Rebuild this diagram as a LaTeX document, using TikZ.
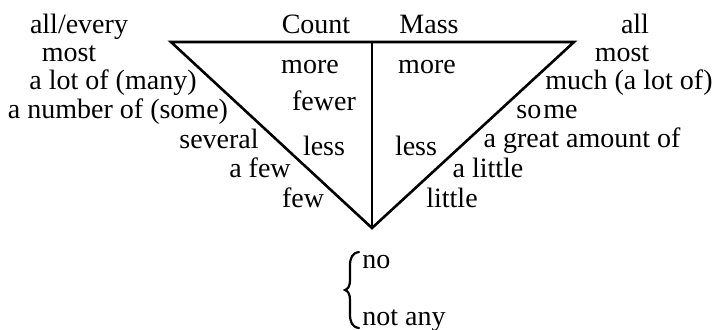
\documentclass[tikz,border=0pt]{standalone}
\usepackage{fontspec}
\setmainfont{Liberation Serif}
\usetikzlibrary{positioning, calc}

\begin{document}
\begin{tikzpicture}[x=0.5pt, y=-0.5pt, font=\fontsize{14}{16}\selectfont,
  word/.style={anchor=base, inner sep=0pt},
  edge/.style={line width=1.3pt}]
  \useasboundingbox (0,0) rectangle (715,329);

  % triangle
  \coordinate (tl)   at (171,42);
  \coordinate (tr)   at (574,42);
  \coordinate (tm)   at (372,42);
  \coordinate (apex) at (372,228);
  \draw[edge] (tl) -- (tr) -- (apex) -- cycle;
  \draw[edge] (tm) -- (apex);

  % headings
  \node[word] (count) at (316,33) {Count};
  \node[word] (mass)  at (429,33) {Mass};

  % count, outside
  \node[word] (allevery) at (79,33)   {all/every};
  \node[word] (mostL)    at (69,61)   {most};
  \node[word] (alotof)   at (113,89)  {a lot of (many)};
  \node[word] (anumber)  at (118,118) {a number of (some)};
  \node[word] (several)  at (219,148) {several};
  \node[word] (afew)     at (260,177) {a few};
  \node[word] (few)      at (303,207) {few};

  % count, inside
  \node[word] (moreL)  at (310,73)  {more};
  \node[word] (fewer)  at (324,110) {fewer};
  \node[word] (lessL)  at (324,155) {less};

  % mass, inside
  \node[word] (moreR)  at (427,73)  {more};
  \node[word] (lessR)  at (416,155) {less};

  % mass, outside
  \node[word] (all)     at (635,33)  {all};
  \node[word] (mostR)   at (622,61)  {most};
  \node[word] (much)    at (629,89)  {much (a lot of)};
  \node[word] (some)    at (547,118) {so\kern1pt me};
  \node[word] (great)   at (582,147) {a great amount of};
  \node[word] (alittle) at (488,177) {a little};
  \node[word] (little)  at (452,207) {little};

  % below the apex
  \node[word, anchor=base west] (no)     at (362,268) {no};
  \node[word, anchor=base west] (notany) at (362,325) {not any};
  \coordinate (bracetop) at (359,252);
  \coordinate (bracebot) at (359,328);
  \coordinate (bracetip) at (345,290);
  \draw[line width=1.1pt, line cap=round]
    (bracetop) .. controls (352,253) and (350,258) .. (350,266)
    -- (350,280) .. controls (350,286) and (348,289) .. (bracetip)
    .. controls (348,291) and (350,294) .. (350,300)
    -- (350,314) .. controls (350,322) and (352,327) .. (bracebot);
\end{tikzpicture}
\end{document}
